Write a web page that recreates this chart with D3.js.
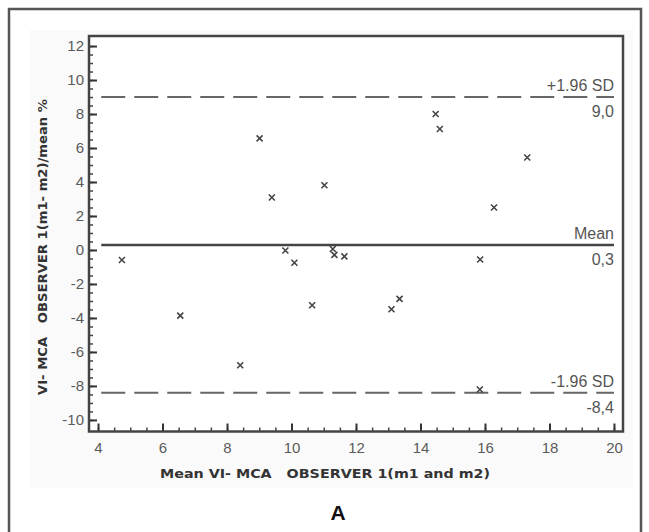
<!DOCTYPE html>
<html>
<head>
<meta charset="utf-8">
<script src="https://cdn.jsdelivr.net/npm/d3@7"></script>
<style>
	body { margin: 0; background: #fff; }
	svg { display: block; }
</style>
</head>
<body>
<div id="graph"></div>
<script>
// mean of the two measurements (x) and difference in % (y)
var meanValues = [4.74, 6.55, 8.41, 9.01, 9.39, 9.81, 10.09, 10.64, 11.02, 11.28,
	11.33, 11.64, 13.10, 13.35, 14.47, 14.60, 15.85, 16.28, 17.31, 15.84]
var diffValues = [-0.59, -3.86, -6.78, 6.57, 3.09, -0.03, -0.75, -3.25, 3.81, 0.06,
	-0.29, -0.38, -3.49, -2.88, 8.00, 7.12, -0.56, 2.50, 5.44, -8.21]

var xTickValues = [4, 6, 8, 10, 12, 14, 16, 18, 20]
var yTickValues = [-10, -8, -6, -4, -2, 0, 2, 4, 6, 8, 10, 12]

var limitValues = [9.0, 0.3, -8.4]
var limitNames = ['+1.96 SD', 'Mean', '-1.96 SD']
var limitLabels = ['9,0', '0,3', '-8,4']

var w = 649
var h = 532
var plotLeft = 89
var plotRight = 623
var plotTop = 36
var plotBottom = 431.5

var tickFont = '"Liberation Sans Narrow", "Liberation Sans", Arial, sans-serif'
var titleFont = '"DejaVu Sans", Verdana, sans-serif'

var svg = d3.select('#graph')
	.append('svg')
	.attr('width', w)
	.attr('height', h)

// outer frame of the figure
svg.append('rect')
	.attr('x', 30)
	.attr('y', 30)
	.attr('width', 603)
	.attr('height', 458)
	.attr('fill', '#fafafa')

svg.append('path')
	.attr('d', 'M9,540V9H641V540')
	.attr('fill', 'none')
	.attr('stroke', '#555')
	.attr('stroke-width', 2.5)

var xScale = d3.scaleLinear()
	.domain([3.72, 20.28])
	.range([plotLeft, plotRight])

var yScale = d3.scaleLinear()
	.domain([-10.68, 12.59])
	.range([plotBottom, plotTop])

svg.append('rect')
	.attr('x', plotLeft)
	.attr('y', plotTop)
	.attr('width', plotRight - plotLeft)
	.attr('height', plotBottom - plotTop)
	.attr('fill', '#fff')

// minor ticks
var xMinor = d3.range(4, 20.01, 0.5)
var yMinor = d3.range(-10, 12.01, 0.5)

svg.append('g')
	.attr('transform', 'translate(0,' + plotBottom + ')')
	.call(d3.axisBottom(xScale).tickValues(xMinor).tickSize(-4).tickFormat(''))
	.call(g => g.select('.domain').remove())
	.selectAll('line').attr('stroke', '#444').attr('stroke-width', 1.5)

svg.append('g')
	.attr('transform', 'translate(' + plotLeft + ',0)')
	.call(d3.axisLeft(yScale).tickValues(yMinor).tickSize(-4).tickFormat(''))
	.call(g => g.select('.domain').remove())
	.selectAll('line').attr('stroke', '#444').attr('stroke-width', 1.5)

// major ticks with labels (plain hyphen for negatives, like the original)
var xAxis = svg.append('g')
	.attr('transform', 'translate(0,' + plotBottom + ')')
	.call(d3.axisBottom(xScale).tickValues(xTickValues).tickSize(-8).tickPadding(11)
		.tickFormat((d) => String(d)))
xAxis.select('.domain').remove()
xAxis.selectAll('line').attr('stroke', '#333').attr('stroke-width', 2)
xAxis.selectAll('text')
	.attr('fill', '#5a5a5a')
	.style('font-family', tickFont)
	.style('font-size', '15px')

var yAxis = svg.append('g')
	.attr('transform', 'translate(' + plotLeft + ',0)')
	.call(d3.axisLeft(yScale).tickValues(yTickValues).tickSize(-8).tickPadding(5)
		.tickFormat((d) => String(d)))
yAxis.select('.domain').remove()
yAxis.selectAll('line').attr('stroke', '#333').attr('stroke-width', 2)
yAxis.selectAll('text')
	.attr('fill', '#5a5a5a')
	.style('font-family', tickFont)
	.style('font-size', '15px')

// plot box
svg.append('rect')
	.attr('x', plotLeft)
	.attr('y', plotTop)
	.attr('width', plotRight - plotLeft)
	.attr('height', plotBottom - plotTop)
	.attr('fill', 'none')
	.attr('stroke', '#444')
	.attr('stroke-width', 2.5)

// mean and limits of agreement
var limits = svg.append('g')
	.selectAll('g')
	.data(limitValues)
	.enter()
	.append('g')

limits.append('line')
	.attr('x1', xScale(4.1))
	.attr('x2', xScale(20))
	.attr('y1', (d) => yScale(d))
	.attr('y2', (d) => yScale(d))
	.attr('stroke', (d, i) => i == 1 ? '#444' : '#666')
	.attr('stroke-width', (d, i) => i == 1 ? 2.5 : 2)
	.attr('stroke-dasharray', (d, i) => i == 1 ? null : '24,9')

limits.append('text')
	.attr('x', xScale(20))
	.attr('y', (d) => yScale(d) - 6)
	.attr('text-anchor', 'end')
	.attr('fill', '#555')
	.style('font-family', tickFont)
	.style('font-size', '16px')
	.text((d, i) => limitNames[i])

limits.append('text')
	.attr('x', xScale(20))
	.attr('y', (d) => yScale(d) + 20)
	.attr('text-anchor', 'end')
	.attr('fill', '#555')
	.style('font-family', tickFont)
	.style('font-size', '16px')
	.text((d, i) => limitLabels[i])

// points
svg.append('g')
	.selectAll('path')
	.data(meanValues)
	.enter()
	.append('path')
	.attr('transform', (d, i) => 'translate(' + xScale(d) + ',' + yScale(diffValues[i]) + ')')
	.attr('d', 'M-3,-3L3,3M-3,3L3,-3')
	.attr('stroke', '#444')
	.attr('stroke-width', 1.6)
	.attr('fill', 'none')

// axis titles
svg.append('text')
	.attr('x', 325)
	.attr('y', 478)
	.attr('text-anchor', 'middle')
	.attr('fill', '#333')
	.attr('textLength', 330)
	.attr('lengthAdjust', 'spacingAndGlyphs')
	.style('font-family', titleFont)
	.style('font-size', '12.5px')
	.style('font-weight', 'bold')
	.style('white-space', 'pre')
	.text('Mean VI- MCA   OBSERVER 1(m1 and m2)')

svg.append('text')
	.attr('transform', 'translate(47,247) rotate(-90)')
	.attr('text-anchor', 'middle')
	.attr('fill', '#333')
	.attr('textLength', 296)
	.attr('lengthAdjust', 'spacingAndGlyphs')
	.style('font-family', titleFont)
	.style('font-size', '12.5px')
	.style('font-weight', 'bold')
	.style('white-space', 'pre')
	.text('VI- MCA   OBSERVER 1(m1- m2)/mean %')

svg.append('text')
	.attr('x', 338)
	.attr('y', 520)
	.attr('text-anchor', 'middle')
	.attr('fill', '#111')
	.style('font-family', '"Liberation Sans", Arial, sans-serif')
	.style('font-size', '21px')
	.style('font-weight', 'bold')
	.text('A')
</script>
</body>
</html>
